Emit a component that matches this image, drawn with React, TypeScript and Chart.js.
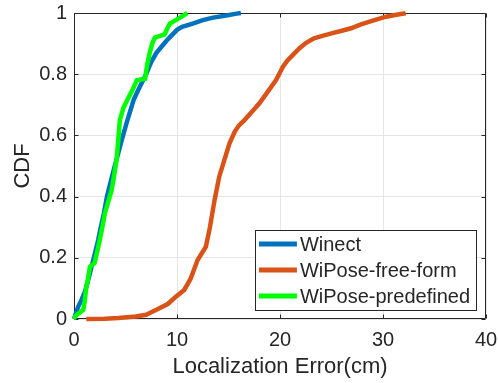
import { useEffect, useRef } from 'react';
import { Chart, registerables } from 'chart.js';

Chart.register(...registerables);

// ---------- Data ----------
const seriesLabels = ['Winect', 'WiPose-free-form', 'WiPose-predefined'];
const seriesColors = ['#0072BD', '#D95319', '#00FF00'];

const winectErr = [0, 0.4, 0.7, 1.07, 1.4, 1.7, 2.0, 2.35, 2.6, 2.9, 3.2, 3.5, 3.8, 4.2, 4.6, 5.1, 5.8, 6.4, 7.0, 7.5, 8.0, 9.0, 10.0, 10.5, 11.6, 12.5, 13.5, 14.5, 15.8, 16.2];
const winectCdf = [0, 0.04, 0.06, 0.09, 0.13, 0.171, 0.21, 0.258, 0.3, 0.345, 0.4, 0.44, 0.48, 0.53, 0.58, 0.64, 0.717, 0.76, 0.8, 0.84, 0.87, 0.91, 0.945, 0.955, 0.966, 0.977, 0.985, 0.99, 0.998, 1.0];

const freeErr = [1.2, 3.0, 4.3, 6.0, 7.0, 7.5, 8.0, 9.1, 9.8, 10.7, 11.3, 12.0, 12.8, 13.2, 13.65, 14.1, 14.6, 15.1, 15.6, 16.0, 16.55, 17.3, 18.0, 18.8, 19.6, 20.3, 20.75, 21.3, 21.9, 22.5, 23.3, 24.2, 25.1, 26.0, 26.9, 27.8, 28.7, 29.5, 30.3, 31.3, 32.2];
const freeCdf = [0, 0.001, 0.003, 0.008, 0.014, 0.022, 0.03, 0.049, 0.07, 0.095, 0.13, 0.193, 0.236, 0.3, 0.389, 0.465, 0.52, 0.574, 0.612, 0.632, 0.65, 0.678, 0.705, 0.742, 0.78, 0.825, 0.846, 0.865, 0.885, 0.902, 0.917, 0.926, 0.934, 0.942, 0.95, 0.962, 0.972, 0.98, 0.988, 0.994, 0.999];

const predefErr = [0, 0.1, 0.5, 0.9, 1.05, 1.16, 1.35, 1.55, 2.0, 2.25, 2.5, 2.75, 3.0, 3.3, 3.65, 3.9, 4.13, 4.3, 4.45, 4.8, 5.2, 5.7, 6.1, 6.9, 7.1, 7.35, 7.6, 7.85, 8.8, 9.0, 9.3, 9.8, 10.3, 11.0];
const predefCdf = [0, 0.008, 0.02, 0.03, 0.06, 0.095, 0.13, 0.171, 0.183, 0.22, 0.258, 0.3, 0.346, 0.38, 0.42, 0.47, 0.52, 0.585, 0.65, 0.69, 0.717, 0.75, 0.78, 0.785, 0.83, 0.87, 0.9, 0.92, 0.93, 0.945, 0.965, 0.975, 0.985, 1.0];

const xTicks = [0, 10, 20, 30, 40];
const yTicks = [0, 0.2, 0.4, 0.6, 0.8, 1];
const xTitle = 'Localization Error(cm)';
const yTitle = 'CDF';

const FONT = '"Liberation Sans", Arial, Helvetica, sans-serif';
const AXIS_COLOR = '#262626';

const toPoints = (xs: number[], ys: number[]) => xs.map((x, i) => ({ x, y: ys[i] }));

const boxPlugin = {
  id: 'matlabBox',
  beforeDatasetsDraw(chart: any) {
    const { ctx, chartArea, scales } = chart;
    const { left, right, top, bottom } = chartArea;
    const xs = scales.x;
    const ys = scales.y;
    const tl = 4;
    ctx.save();
    ctx.strokeStyle = AXIS_COLOR;
    ctx.lineWidth = 1;
    ctx.beginPath();
    const L = Math.round(left) + 0.5;
    const R = Math.round(right) - 0.5;
    const T = Math.round(top) + 0.5;
    const B = Math.round(bottom) - 0.5;
    ctx.moveTo(L, T);
    ctx.lineTo(R, T);
    ctx.lineTo(R, B);
    ctx.lineTo(L, B);
    ctx.closePath();
    xTicks.forEach((v) => {
      const px = Math.round(xs.getPixelForValue(v)) + 0.5;
      ctx.moveTo(px, B);
      ctx.lineTo(px, B - tl);
      ctx.moveTo(px, T);
      ctx.lineTo(px, T + tl);
    });
    yTicks.forEach((v) => {
      const py = Math.round(ys.getPixelForValue(v)) + 0.5;
      ctx.moveTo(L, py);
      ctx.lineTo(L + tl, py);
      ctx.moveTo(R, py);
      ctx.lineTo(R - tl, py);
    });
    ctx.stroke();
    ctx.restore();
  },
};

const legendPlugin = {
  id: 'innerLegend',
  afterDraw(chart: any) {
    const { ctx, chartArea } = chart;
    ctx.save();
    ctx.font = `20px ${FONT}`;
    const maxW = Math.max(...seriesLabels.map((s) => ctx.measureText(s).width));
    const sampleLen = 38;
    const boxW = 4 + sampleLen + 3 + maxW + 6;
    const boxH = 80;
    const boxRight = chartArea.right - 10;
    const boxBottom = chartArea.bottom - 9;
    const boxLeft = boxRight - boxW;
    const boxTop = boxBottom - boxH;
    ctx.fillStyle = '#ffffff';
    ctx.fillRect(boxLeft, boxTop, boxW, boxH);
    ctx.strokeStyle = AXIS_COLOR;
    ctx.lineWidth = 1;
    ctx.strokeRect(Math.round(boxLeft) + 0.5, Math.round(boxTop) + 0.5, Math.round(boxW), Math.round(boxH));
    const rows = [14, 40, 66];
    seriesLabels.forEach((label, i) => {
      const cy = boxTop + rows[i];
      ctx.strokeStyle = seriesColors[i];
      ctx.lineWidth = 5;
      ctx.beginPath();
      ctx.moveTo(boxLeft + 4, cy);
      ctx.lineTo(boxLeft + 4 + sampleLen, cy);
      ctx.stroke();
      ctx.fillStyle = AXIS_COLOR;
      ctx.textAlign = 'left';
      ctx.textBaseline = 'middle';
      ctx.fillText(label, boxLeft + 4 + sampleLen + 3, cy + 1);
    });
    ctx.restore();
  },
};

export default function App() {
  const canvasRef = useRef<HTMLCanvasElement | null>(null);

  useEffect(() => {
    document.body.style.margin = '0';
    const canvas = canvasRef.current;
    if (!canvas) return;
    const mk = (i: number, xs: number[], ys: number[], order: number) => ({
      label: seriesLabels[i],
      data: toPoints(xs, ys),
      borderColor: seriesColors[i],
      backgroundColor: seriesColors[i],
      showLine: true,
      borderWidth: 4.5,
      pointRadius: 0,
      tension: 0,
      clip: false as any,
      order,
    });
    const chart = new Chart(canvas, {
      type: 'scatter',
      data: {
        datasets: [
          mk(0, winectErr, winectCdf, 3),
          mk(1, freeErr, freeCdf, 2),
          mk(2, predefErr, predefCdf, 1),
        ],
      },
      options: {
        animation: false,
        responsive: false,
        maintainAspectRatio: false,
        layout: { padding: { top: 13, right: 12, left: 0, bottom: 0 } },
        plugins: {
          legend: { display: false },
          tooltip: { enabled: false },
        },
        scales: {
          x: {
            type: 'linear',
            min: 0,
            max: 40,
            afterFit: (scale: any) => {
              scale.height = 64;
              scale.paddingLeft = 0;
              scale.paddingRight = 0;
              scale.paddingTop = 0;
              scale.paddingBottom = 0;
            },
            afterBuildTicks: (scale: any) => {
              scale.ticks = xTicks.map((v) => ({ value: v }));
            },
            ticks: {
              font: { family: FONT, size: 20 },
              color: AXIS_COLOR,
              padding: 9,
              maxRotation: 0,
              autoSkip: false,
              callback: (v: any) => String(v),
            },
            grid: { color: '#e6e6e6', lineWidth: 1, drawTicks: false },
            border: { display: false },
            title: {
              display: true,
              text: xTitle,
              font: { family: FONT, size: 22 },
              color: AXIS_COLOR,
              padding: { top: 3, bottom: 3 },
            },
          },
          y: {
            type: 'linear',
            min: 0,
            max: 1,
            afterFit: (scale: any) => {
              scale.width = 74;
              scale.paddingLeft = 0;
              scale.paddingRight = 0;
              scale.paddingTop = 0;
              scale.paddingBottom = 0;
            },
            afterBuildTicks: (scale: any) => {
              scale.ticks = yTicks.map((v) => ({ value: v }));
            },
            ticks: {
              font: { family: FONT, size: 20 },
              color: AXIS_COLOR,
              padding: 7,
              autoSkip: false,
              callback: (v: any) => String(Math.round(v * 10) / 10),
            },
            grid: { color: '#e6e6e6', lineWidth: 1, drawTicks: false },
            border: { display: false },
            title: {
              display: true,
              text: yTitle,
              font: { family: FONT, size: 22 },
              color: AXIS_COLOR,
              padding: { top: 10, bottom: 10 },
            },
          },
        },
      },
      plugins: [boxPlugin, legendPlugin],
    } as any);
    return () => chart.destroy();
  }, []);

  return (
    <div style={{ width: 498, height: 383 }}>
      <canvas ref={canvasRef} width={498} height={383} style={{ display: 'block', width: 498, height: 383 }} />
    </div>
  );
}
